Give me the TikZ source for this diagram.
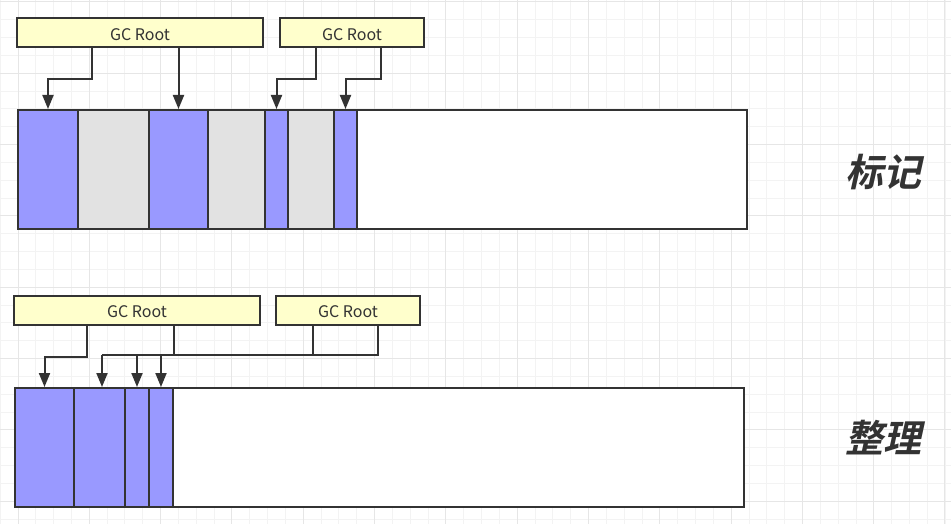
\documentclass[tikz,border=0pt]{standalone}
\usepackage{fontspec}
\setmainfont{Noto Sans CJK SC}
\newfontfamily\cjklabel[FakeSlant=0.22]{Noto Sans CJK SC Bold}
\usepackage{tikz}
\usetikzlibrary{arrows.meta, positioning, calc}
\definecolor{liveblue}{RGB}{153,153,255}
\definecolor{deadgray}{RGB}{226,226,226}
\definecolor{rootyellow}{RGB}{255,255,204}
\definecolor{edgegray}{RGB}{51,51,51}
\definecolor{minorgrid}{RGB}{243,243,243}
\definecolor{majorgrid}{RGB}{230,230,230}
\tikzset{
  gcroot/.style={draw=edgegray, line width=2pt, fill=rootyellow, minimum height=29pt,
                 inner sep=0pt, text height=15.5pt, text depth=0pt,
                 font=\fontsize{16}{18}\selectfont, text=edgegray},
  cell/.style={draw=edgegray, line width=2pt, anchor=north west, minimum height=119pt, inner sep=0pt},
  live/.style={cell, fill=liveblue},
  dead/.style={cell, fill=deadgray},
  free/.style={cell, fill=white},
  link/.style={draw=edgegray, line width=2pt},
  ref/.style={link, -{Triangle[width=11pt,length=14pt]}},
  stage/.style={font=\cjklabel\fontsize{38}{40}\selectfont, text=edgegray},
}
\begin{document}
\begin{tikzpicture}[x=1pt, y=-1pt]
\useasboundingbox (0,0) rectangle (951,524);
\fill[white] (0,0) rectangle (951,524);
\foreach \i in {0,...,53} \draw[minorgrid, line width=1pt] ({0.17+17.83*\i},0) -- ++(0,524);
\foreach \j in {0,...,29} \draw[minorgrid, line width=1pt] (0,{2+17.83*\j}) -- ++(951,0);
\foreach \i in {0,...,13} \draw[majorgrid, line width=1pt] ({18+71.3*\i},0) -- ++(0,524);
\foreach \j in {0,...,7} \draw[majorgrid, line width=1pt] (0,{2+71.3*\j}) -- ++(951,0);

\node[gcroot, minimum width=246pt] (rootA) at (140,32.5) {GC Root};
\node[gcroot, minimum width=144pt] (rootB) at (352,32.5) {GC Root};

\node[live, minimum width=60pt]  (m1) at (17,109)  {};
\node[dead, minimum width=71pt]  (m2) at (77,109)  {};
\node[live, minimum width=59pt]  (m3) at (148,109) {};
\node[dead, minimum width=57pt]  (m4) at (207,109) {};
\node[live, minimum width=23pt]  (m5) at (264,109) {};
\node[dead, minimum width=46pt]  (m6) at (287,109) {};
\node[live, minimum width=23pt]  (m7) at (333,109) {};
\node[free, minimum width=390pt] (m8) at (356,109) {};

\draw[ref] ([xshift=76pt]rootA.south west) -- ++(0,31) -| (m1.north);
\draw[ref] (rootA.south -| m3.north) -- (m3.north);
\draw[ref] ([xshift=37pt]rootB.south west) -- ++(0,31) -| (m5.north);
\draw[ref] ([xshift=102pt]rootB.south west) -- ++(0,31) -| (m7.north);

\node[stage] (mark) at (883,172) {标记};

\node[gcroot, minimum width=246pt] (rootC) at (137,310) {GC Root};
\node[gcroot, minimum width=144pt] (rootD) at (348,310) {GC Root};

\node[live, minimum width=59pt]  (c1) at (14,387)  {};
\node[live, minimum width=51pt]  (c2) at (73,387)  {};
\node[live, minimum width=24pt]  (c3) at (124,387) {};
\node[live, minimum width=24pt]  (c4) at (148,387) {};
\node[free, minimum width=571pt] (c5) at (172,387) {};

\coordinate (busL) at (102,355);
\coordinate (busR) at (378,355);
\coordinate (jC) at (174,355);
\coordinate (jD) at (313,355);

\draw[ref] ([xshift=74pt]rootC.south west) -- ++(0,31) -| (c1.north);
\draw[link] (rootC.south -| jC) -- (jC);
\draw[link] (rootD.south -| jD) -- (jD);
\draw[link] (rootD.south -| busR) -- (busR) -- (busL);
\draw[ref] (busL) -- (busL |- c2.north);
\draw[ref] (c3.north |- busL) -- (c3.north);
\draw[ref] (c4.north |- busL) -- (c4.north);

\node[stage] (compact) at (883,438) {整理};
\end{tikzpicture}
\end{document}
